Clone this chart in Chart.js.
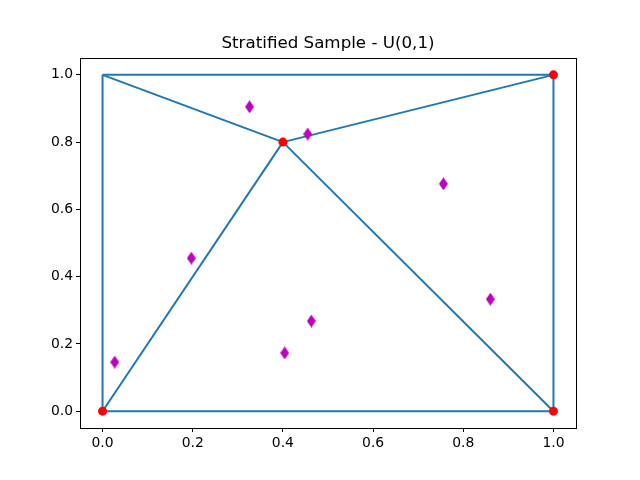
<!DOCTYPE html>
<html>
<head>
<meta charset="utf-8">
<script src="https://cdn.jsdelivr.net/npm/chart.js@4"></script>
<style>
  html, body { margin: 0; padding: 0; background: #fff; }
  #wrap { width: 640px; height: 480px; }
</style>
</head>
<body>
<div id="wrap"><canvas id="chart" width="640" height="480"></canvas></div>
<script>
// mesh vertices (red dots are the ones in vertexMarked)
const vertexX = [0.0, 1.0, 1.0, 0.0, 0.4];
const vertexY = [0.0, 0.0, 1.0, 1.0, 0.8];
const vertexMarked = [0, 1, 2, 4];
// triangulation edges as vertex index pairs
const edges = [[0, 1], [1, 2], [2, 3], [3, 0], [3, 4], [4, 2], [0, 4], [4, 1]];
// stratified sample points
const sampleX = [0.027, 0.197, 0.326, 0.404, 0.455, 0.463, 0.756, 0.860];
const sampleY = [0.146, 0.455, 0.905, 0.173, 0.824, 0.268, 0.676, 0.333];
const xTicks = [0.0, 0.2, 0.4, 0.6, 0.8, 1.0];
const yTicks = [0.0, 0.2, 0.4, 0.6, 0.8, 1.0];

// thin diamond marker like matplotlib 'd'
function thinDiamond(w, h, color) {
    let c = document.createElement('canvas');
    c.width = w; c.height = h;
    let g = c.getContext('2d');
    g.fillStyle = color;
    g.beginPath();
    g.moveTo(w / 2, 0);
    g.lineTo(w, h / 2);
    g.lineTo(w / 2, h);
    g.lineTo(0, h / 2);
    g.closePath();
    g.fill();
    return c;
}

let datasets = [];
edges.forEach(function(e) {
    datasets.push({
        data: [{x: vertexX[e[0]], y: vertexY[e[0]]}, {x: vertexX[e[1]], y: vertexY[e[1]]}],
        showLine: true,
        borderColor: '#1f77b4',
        borderWidth: 2,
        pointRadius: 0,
        order: 3
    });
});
datasets.push({
    data: vertexMarked.map(i => ({x: vertexX[i], y: vertexY[i]})),
    backgroundColor: '#ff0000',
    borderColor: '#ff0000',
    pointRadius: 4.5,
    borderWidth: 0,
    order: 1
});
datasets.push({
    data: sampleX.map((x, i) => ({x: x, y: sampleY[i]})),
    pointStyle: thinDiamond(9, 13, '#bf00bf'),
    order: 0
});

const boxPlugin = {
    id: 'box',
    afterDraw(chart) {
        let a = chart.chartArea, ctx = chart.ctx;
        ctx.save();
        ctx.strokeStyle = '#000';
        ctx.lineWidth = 1;
        ctx.strokeRect(Math.round(a.left) + 0.5, Math.round(a.top) + 0.5,
            Math.round(a.right - a.left), Math.round(a.bottom - a.top));
        ctx.restore();
    }
};

const tickFont = {family: 'DejaVu Sans', size: 13.9};

let ctx = document.getElementById('chart').getContext('2d');
new Chart(ctx, {
    type: 'scatter',
    data: {datasets: datasets},
    options: {
        responsive: false,
        animation: false,
        layout: {padding: {left: 0, right: 64, top: 0, bottom: 0}},
        plugins: {
            legend: {display: false},
            tooltip: {enabled: false},
            title: {
                display: true,
                fullSize: false,
                text: 'Stratified Sample - U(0,1)',
                color: '#000',
                font: {family: 'DejaVu Sans', size: 16.7, weight: 'normal', lineHeight: 1.2},
                padding: {top: 34, bottom: 4}
            }
        },
        scales: {
            x: {
                min: -0.05, max: 1.05,
                afterBuildTicks: s => { s.ticks = xTicks.map(v => ({value: v})); },
                afterFit: s => { s.height = 52; },
                grid: {drawOnChartArea: false, drawTicks: true, tickLength: 4, color: '#000'},
                border: {display: false},
                ticks: {color: '#000', font: tickFont, padding: 3, maxRotation: 0,
                    callback: v => v.toFixed(1)}
            },
            y: {
                min: -0.05, max: 1.05,
                afterBuildTicks: s => { s.ticks = yTicks.map(v => ({value: v})); },
                afterFit: s => { s.width = 80; },
                grid: {drawOnChartArea: false, drawTicks: true, tickLength: 4, color: '#000'},
                border: {display: false},
                ticks: {color: '#000', font: tickFont, padding: 3,
                    callback: v => v.toFixed(1)}
            }
        }
    },
    plugins: [boxPlugin]
});
</script>
</body>
</html>
